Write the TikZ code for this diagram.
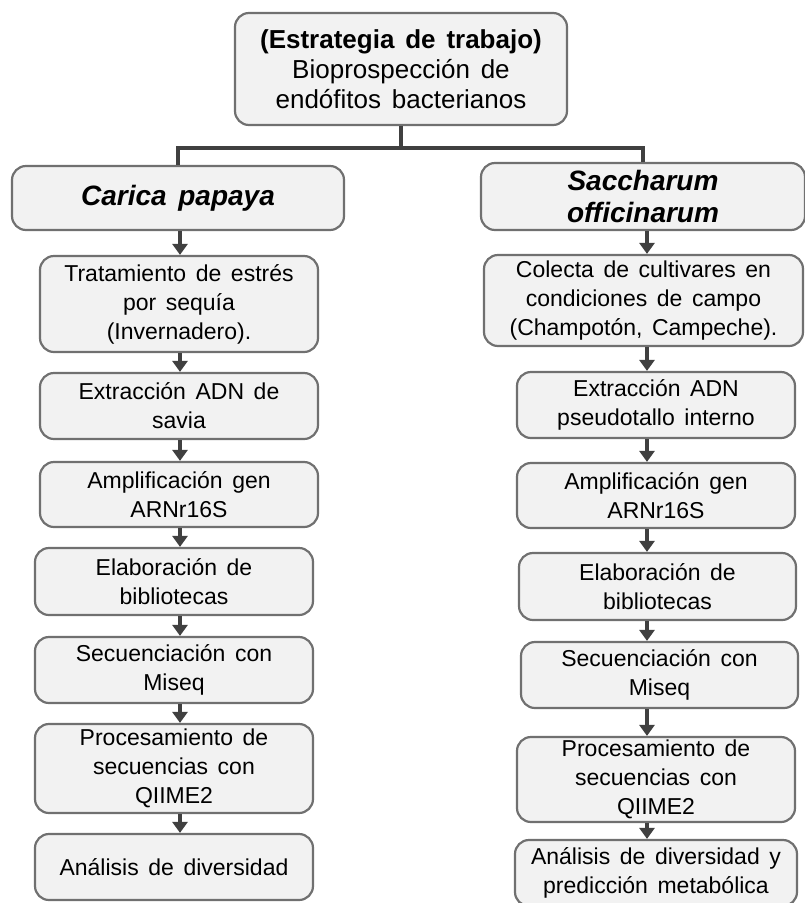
\documentclass[tikz,border=0pt]{standalone}
\usepackage{fontspec}
\setmainfont[WordSpace=1.5]{Liberation Sans}
\usetikzlibrary{arrows.meta,positioning}

\definecolor{boxfill}{HTML}{F2F2F2}
\definecolor{boxline}{HTML}{707070}
\definecolor{linkgray}{HTML}{404040}

\begin{document}
\begin{tikzpicture}[
                x=1pt, y=-1pt,
                box/.style={rectangle, rounded corners=14pt, draw=boxline, fill=boxfill, line width=2.2pt, align=center, inner sep=0pt},
                stepbox/.style={box, font=\fontsize{23}{29}\selectfont},
                plantbox/.style={box, font=\fontsize{28}{32}\selectfont\bfseries\itshape},
                topbox/.style={box, font=\fontsize{26}{30}\selectfont},
                branch/.style={draw=linkgray, line width=4pt},
                flow/.style={draw=linkgray, line width=4pt, -{Triangle[width=15pt,length=11pt]}}
            ]
            \useasboundingbox (0,0) rectangle (804,903);

            % Strategy box
            \node[topbox, minimum width=332pt, minimum height=112pt] (top) at (401,69)
                {{\bfseries (Estrategia de trabajo)}\\Bioprospección de\\endófitos bacterianos};

            % Plant boxes
            \node[plantbox, minimum width=332pt, minimum height=64pt] (papaya) at (178,198) {Carica papaya};
            \node[plantbox, minimum width=324pt, minimum height=67pt] (cane) at (643,196.5) {Saccharum\\officinarum};

            % Branches
            \coordinate (bar) at (401,148);
            \draw[branch] (top.south) -- (bar);
            \draw[branch] (papaya.north) |- (bar) -| (cane.north);

            % Left column (Carica papaya)
            \node[stepbox, minimum width=278pt, minimum height=96pt] (p1) at (179,304) {Tratamiento de estrés\\por sequía\\(Invernadero).};
            \node[stepbox, minimum width=278pt, minimum height=66pt] (p2) at (179,406) {Extracción ADN de\\savia};
            \node[stepbox, minimum width=278pt, minimum height=65pt] (p3) at (179,494.5) {Amplificación gen\\ARNr16S};
            \node[stepbox, minimum width=278pt, minimum height=67pt] (p4) at (174,581.5) {Elaboración de\\bibliotecas};
            \node[stepbox, minimum width=278pt, minimum height=66pt] (p5) at (174,670) {Secuenciación con\\Miseq};
            \node[stepbox, minimum width=278pt, minimum height=89pt] (p6) at (174,768.5) {Procesamiento de\\secuencias con\\QIIME2};
            \node[stepbox, minimum width=278pt, minimum height=66pt] (p7) at (174,867) {Análisis de diversidad};

            % Right column (Saccharum officinarum)
            \node[stepbox, minimum width=319pt, minimum height=91pt] (s1) at (643.5,300.5) {Colecta de cultivares en\\condiciones de campo\\(Champotón, Campeche).};
            \node[stepbox, minimum width=278pt, minimum height=66pt] (s2) at (656,405) {Extracción ADN\\pseudotallo interno};
            \node[stepbox, minimum width=278pt, minimum height=65pt] (s3) at (656,495.5) {Amplificación gen\\ARNr16S};
            \node[stepbox, minimum width=277pt, minimum height=67pt] (s4) at (657.5,586.5) {Elaboración de\\bibliotecas};
            \node[stepbox, minimum width=277pt, minimum height=66pt] (s5) at (659.5,675) {Secuenciación con\\Miseq};
            \node[stepbox, minimum width=278pt, minimum height=85pt] (s6) at (656,779.5) {Procesamiento de\\secuencias con\\QIIME2};
            \node[stepbox, minimum width=282pt, minimum height=66pt] (s7) at (656,873) {Análisis de diversidad y\\predicción metabólica};

            % Arrow columns
            \coordinate (colP) at (180,0);
            \coordinate (colS) at (647,0);

            % Left arrows
            \draw[flow] (papaya.south -| colP) -- (p1.north -| colP);
            \foreach \a/\b in {p1/p2, p2/p3, p3/p4, p4/p5, p5/p6, p6/p7}
                \draw[flow] (\a.south -| colP) -- (\b.north -| colP);

            % Right arrows
            \draw[flow] (cane.south -| colS) -- (s1.north -| colS);
            \foreach \a/\b in {s1/s2, s2/s3, s3/s4, s4/s5, s5/s6, s6/s7}
                \draw[flow] (\a.south -| colS) -- (\b.north -| colS);

        \end{tikzpicture}
\end{document}
